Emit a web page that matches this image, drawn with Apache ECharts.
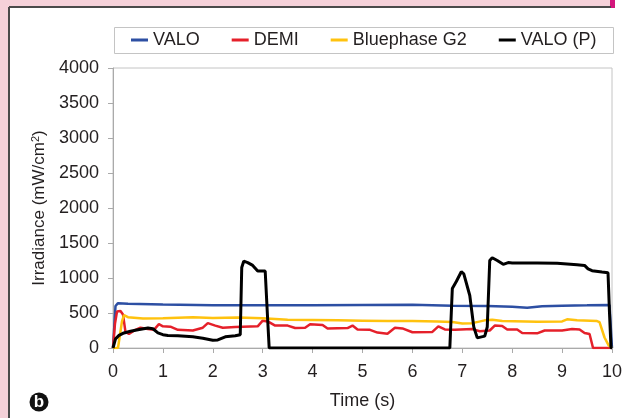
<!DOCTYPE html>
<html>
<head>
<meta charset="utf-8">
<script src="https://cdn.jsdelivr.net/npm/echarts@6/dist/echarts.min.js"></script>
<style>
html,body{margin:0;padding:0;background:#fff;}
#main{width:641px;height:418px;}
</style>
</head>
<body>
<div id="main"></div>
<script>
// series names (legend order)
var names = ['VALO', 'DEMI', 'Bluephase G2', 'VALO (P)'];
var colors = ['#2d4fa3', '#e5202a', '#ffc20e', '#000000'];

// [time (s), irradiance (mW/cm2)]
var valo = [[0,0],[0.05,600],[0.1,640],[0.3,632],[1,622],[2,612],[3,610],[4,612],[5,615],[6,618],[6.8,605],[7.5,600],[8,590],[8.3,575],[8.6,595],[9,605],[9.5,610],[9.95,615],[10,0]];

var demi = [[0,0],[0.04,350],[0.08,520],[0.15,530],[0.2,480],[0.25,230],[0.32,200],[0.45,260],[0.55,290],[0.7,270],[0.82,260],[0.92,340],[1.0,310],[1.15,305],[1.3,260],[1.6,250],[1.8,290],[1.9,355],[2.05,320],[2.2,290],[2.45,300],[2.9,310],[3.0,390],[3.1,380],[3.25,320],[3.5,320],[3.65,285],[3.85,290],[3.95,340],[4.2,330],[4.3,280],[4.7,285],[4.8,320],[4.9,265],[5.15,260],[5.3,220],[5.5,205],[5.65,290],[5.8,280],[6.0,225],[6.4,230],[6.52,310],[6.65,265],[6.85,260],[7.2,270],[7.35,240],[7.55,250],[7.65,320],[7.8,315],[7.9,265],[8.1,265],[8.2,215],[8.5,210],[8.65,250],[9.0,250],[9.2,270],[9.35,265],[9.45,215],[9.55,200],[9.62,0],[10,0]];

var bluephase = [[0,0],[0.1,0],[0.18,380],[0.22,470],[0.3,440],[0.6,420],[1.0,425],[1.6,440],[2.0,430],[2.5,435],[3.0,425],[3.5,405],[4.0,400],[4.5,395],[5.0,390],[5.5,385],[6.0,385],[6.5,380],[6.8,370],[7.0,350],[7.2,355],[7.45,395],[7.6,405],[7.8,385],[8.5,375],[9.0,380],[9.1,410],[9.3,395],[9.7,385],[9.75,370],[9.85,150],[9.93,40],[10,0]];

var valoP = [[0,0],[0.05,130],[0.12,180],[0.2,210],[0.35,240],[0.5,260],[0.7,285],[0.8,275],[0.9,215],[1.0,190],[1.1,180],[1.3,175],[1.6,160],[1.8,140],[2.0,110],[2.1,115],[2.25,160],[2.45,175],[2.55,190],[2.58,1150],[2.62,1240],[2.7,1220],[2.8,1180],[2.9,1100],[3.05,1100],[3.1,400],[3.13,0],[6.75,0],[6.8,850],[6.88,950],[6.98,1090],[7.03,1060],[7.15,750],[7.23,300],[7.3,145],[7.45,170],[7.5,300],[7.55,1250],[7.6,1290],[7.7,1250],[7.82,1195],[7.92,1220],[8.0,1215],[8.5,1215],[8.9,1210],[9.1,1200],[9.3,1190],[9.45,1180],[9.52,1130],[9.6,1105],[9.8,1085],[9.92,1075],[9.95,500],[9.98,0],[10,0]];

var seriesData = [valo, demi, bluephase, valoP];
var lineWidths = [2.5, 2.5, 2.5, 3];

var font = 'Liberation Sans, Arial, sans-serif';
var txt = '#231f20';

var myChart = echarts.init(document.getElementById('main'));

var series = [];
for (var i = 0; i < names.length; i++) {
    series.push({
        name: names[i],
        type: 'line',
        data: seriesData[i],
        showSymbol: false,
        symbol: 'none',
        animation: false,
        lineStyle: {color: colors[i], width: lineWidths[i]},
        itemStyle: {color: colors[i]}
    });
}

var option = {
    backgroundColor: '#fff',
    animation: false,
    textStyle: {fontFamily: font},
    legend: {
        data: names,
        left: 126,
        top: 31,
        padding: [0, 5],
        icon: 'rect',
        itemWidth: 17,
        itemHeight: 3,
        itemGap: 32,
        textStyle: {fontSize: 18, color: txt, fontFamily: font}
    },
    grid: {
        left: 113, top: 68, right: 29, bottom: 70,
        show: true, borderColor: '#c4c4c4', borderWidth: 1,
        backgroundColor: 'transparent'
    },
    xAxis: {
        type: 'value',
        min: 0, max: 10, interval: 1,
        name: 'Time (s)',
        nameLocation: 'middle',
        nameGap: 44,
        nameTextStyle: {fontSize: 18, color: txt, fontFamily: font},
        axisLine: {lineStyle: {color: '#aaa', width: 1}},
        axisTick: {show: true, length: 5, lineStyle: {color: '#aaa'}},
        axisLabel: {fontSize: 18, color: txt, margin: 15, fontFamily: font},
        splitLine: {show: false}
    },
    yAxis: {
        type: 'value',
        min: 0, max: 4000, interval: 500,
        name: 'Irradiance (mW/cm{sup|2})',
        nameLocation: 'middle',
        nameRotate: 90,
        nameGap: 64,
        nameTextStyle: {
            fontSize: 17, color: txt, fontFamily: font,
            rich: {sup: {fontSize: 11, color: txt, verticalAlign: 'top', padding: [0, 0, 8, 0]}}
        },
        axisLine: {show: true, lineStyle: {color: '#aaa', width: 1}},
        axisTick: {show: true, length: 5, lineStyle: {color: '#aaa'}},
        axisLabel: {fontSize: 18, color: txt, margin: 14, fontFamily: font, formatter: function (v) { return String(v); }},
        splitLine: {show: false}
    },
    graphic: [
        {type: 'rect', shape: {x: 0, y: 0, width: 10, height: 418}, style: {fill: '#f5d1d9'}, silent: true},
        {type: 'rect', shape: {x: 0, y: 0, width: 611, height: 7}, style: {fill: '#f5d1d9'}, silent: true},
        {type: 'rect', shape: {x: 610, y: 0, width: 5, height: 8}, style: {fill: '#d3167c'}, silent: true},
        {type: 'line', shape: {x1: 9, y1: 7, x2: 9, y2: 418}, style: {stroke: '#4a4a4a', lineWidth: 2}, silent: true},
        {type: 'line', shape: {x1: 9, y1: 7, x2: 611, y2: 7}, style: {stroke: '#4a4a4a', lineWidth: 2}, silent: true},
        {type: 'rect', shape: {x: 114.5, y: 27.5, width: 499, height: 26}, style: {fill: 'none', stroke: '#c4c4c4', lineWidth: 1}, silent: true},
        {type: 'circle', shape: {cx: 39, cy: 402, r: 9.5}, style: {fill: '#111'}, silent: true},
        {type: 'text', x: 39, y: 402, style: {text: 'b', fill: '#fff', font: 'bold 17px ' + font, align: 'center', verticalAlign: 'middle'}, silent: true}
    ],
    series: series
};
myChart.setOption(option);
</script>
</body>
</html>
